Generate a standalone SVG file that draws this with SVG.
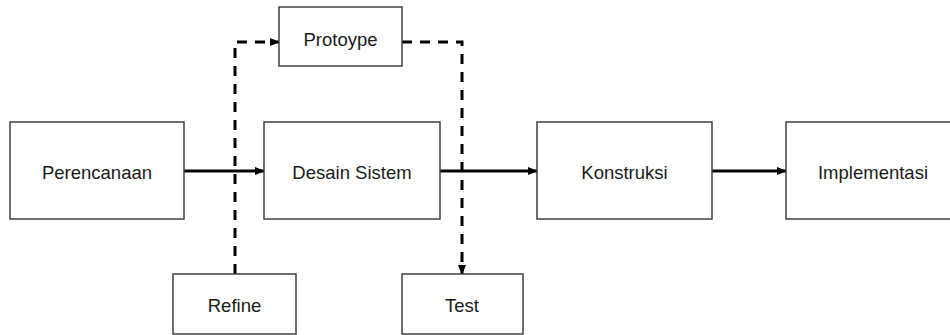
<svg xmlns="http://www.w3.org/2000/svg" width="950" height="335" viewBox="0 0 950 335">
<style>
.box{fill:#fff;stroke:#404040;stroke-width:1.5}
.lbl{font-family:"Liberation Sans","Noto Sans",sans-serif;font-size:18.5px;fill:#1a1a1a;text-anchor:middle}
.solid{fill:none;stroke:#000;stroke-width:3}
.dash{fill:none;stroke:#000;stroke-width:3;stroke-dasharray:10 8}
</style>
<defs>
<marker id="ah" markerUnits="userSpaceOnUse" markerWidth="10" markerHeight="10" viewBox="0 0 10 10" refX="9" refY="5" orient="auto">
<path d="M0,1 L10,5 L0,9 Z" fill="#000"/>
</marker>
</defs>
<rect width="950" height="335" fill="#fff"/>
<g id="connectors">
<line class="solid" x1="184" y1="171" x2="264" y2="171" marker-end="url(#ah)"/>
<line class="solid" x1="440" y1="171" x2="537" y2="171" marker-end="url(#ah)"/>
<line class="solid" x1="712" y1="171" x2="786" y2="171" marker-end="url(#ah)"/>
<path class="dash" d="M235,274 L235,42 L279,42" marker-end="url(#ah)"/>
<path class="dash" d="M402,42 L462,42 L462,274" marker-end="url(#ah)"/>
</g>
<g id="perencanaan">
<rect class="box" x="10" y="122" width="174" height="97"/>
<text class="lbl" x="97" y="179">Perencanaan</text>
</g>
<g id="desain">
<rect class="box" x="264" y="122" width="176" height="97"/>
<text class="lbl" x="352" y="179">Desain Sistem</text>
</g>
<g id="konstruksi">
<rect class="box" x="537" y="122" width="175" height="97"/>
<text class="lbl" x="624.5" y="179">Konstruksi</text>
</g>
<g id="implementasi">
<rect class="box" x="786" y="122" width="174" height="97"/>
<text class="lbl" x="873" y="179">Implementasi</text>
</g>
<g id="protoype">
<rect class="box" x="279" y="7" width="123" height="59"/>
<text class="lbl" x="340.5" y="46">Protoype</text>
</g>
<g id="refine">
<rect class="box" x="173" y="274" width="123" height="60"/>
<text class="lbl" x="234.5" y="312">Refine</text>
</g>
<g id="test">
<rect class="box" x="402" y="274" width="121" height="60"/>
<text class="lbl" x="462" y="312">Test</text>
</g>
</svg>
